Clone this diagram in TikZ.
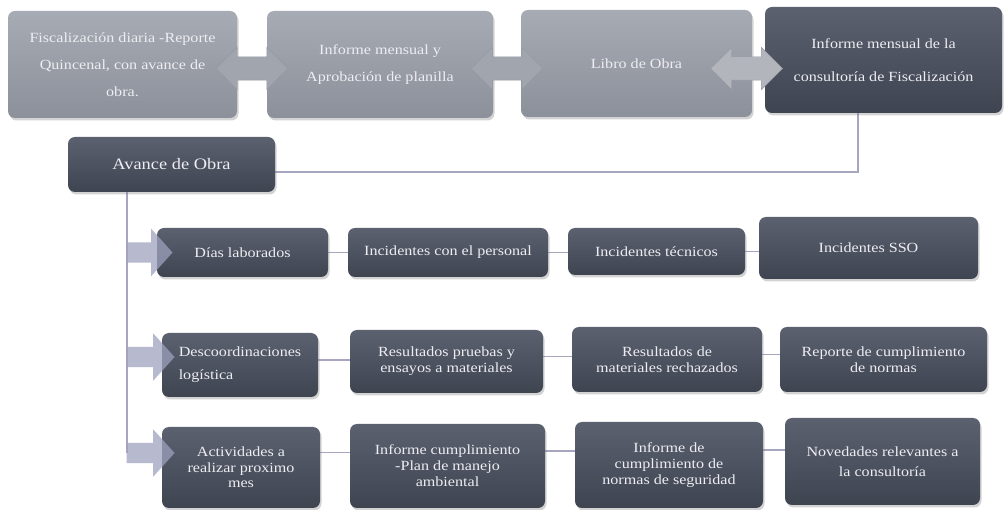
\documentclass[tikz,border=0pt]{standalone}
\usepackage{fontspec}
\setmainfont{Liberation Serif}[FakeStretch=1.15]
\usetikzlibrary{shapes.arrows,shadows,backgrounds,calc}
\definecolor{paleTop}{HTML}{A7ABB4}
\definecolor{paleBot}{HTML}{8B909A}
\definecolor{darkTop}{HTML}{5B616F}
\definecolor{darkBot}{HTML}{3E4450}
\definecolor{linkLine}{HTML}{A6A6C0}
\definecolor{arrowFill}{HTML}{B2B5BC}
\definecolor{arrowMuted}{HTML}{A1A5AE}
\definecolor{sideArrow}{HTML}{9FA1BE}
\definecolor{labelInk}{HTML}{EDEDF2}
\tikzset{
  card/.style={rounded corners=7pt, inner sep=3pt, text=labelInk, align=center,
    drop shadow={opacity=0.35, shadow xshift=1.5pt, shadow yshift=-2.5pt}},
  palecard/.style={card, top color=paleTop, bottom color=paleBot,
    font=\fontsize{14}{27}\selectfont},
  darkcard/.style={card, top color=darkTop, bottom color=darkBot,
    font=\fontsize{14}{16}\selectfont},
  link/.style={draw=linkLine, line width=1.8pt},
  swaparrow/.style={double arrow, fill=arrowFill, draw=arrowFill!85!black,
    line width=0.4pt, inner xsep=0pt, inner ysep=11.5pt,
    double arrow head extend=9.5pt, minimum height=72pt},
  sidearrow/.style={single arrow, fill=sideArrow, fill opacity=0.75, draw=none,
    inner xsep=0pt, inner ysep=10pt, single arrow head extend=13.5pt,
    single arrow tip angle=96, anchor=tip}
}
\begin{document}
\begin{tikzpicture}[x=1pt,y=-1pt]
\useasboundingbox (0,0) rectangle (1005,510);

% top process chain
\node[palecard, minimum width=229pt, minimum height=107pt] (b1) at (122.5,64.5)
  {Fiscalización diaria -Reporte\\Quincenal, con avance de\\obra.};
\node[palecard, minimum width=226pt, minimum height=107pt] (b2) at (380,64.5)
  {Informe mensual y\\Aprobación de planilla};
\node[palecard, minimum width=231pt, minimum height=107pt] (b3) at (636.5,63.5)
  {Libro de Obra};
\node[card, top color=darkTop, bottom color=darkBot, font=\fontsize{14}{33}\selectfont,
  minimum width=237pt, minimum height=106pt] (b4) at (883.5,60)
  {Informe mensual de la\\consultoría de Fiscalización};

% summary node
\node[card, top color=darkTop, bottom color=darkBot, font=\fontsize{16}{18}\selectfont,
  minimum width=207pt, minimum height=55pt] (av) at (171.5,164.5) {Avance de Obra};

% first row
\node[darkcard, minimum width=171pt, minimum height=49pt] (r1a) at (242.5,252.5) {Días laborados};
\node[darkcard, minimum width=200pt, minimum height=49pt] (r1b) at (448,252.5) {Incidentes con el personal};
\node[darkcard, minimum width=177pt, minimum height=47pt] (r1c) at (656.5,251.5) {Incidentes técnicos};
\node[darkcard, minimum width=219pt, minimum height=62pt] (r1d) at (868.5,248) {Incidentes SSO};

% second row
\node[darkcard, align=left, font=\fontsize{14}{23}\selectfont,
  minimum width=156pt, minimum height=64pt] (r2a) at (240,365) {Descoordinaciones\\logística};
\node[darkcard, minimum width=193pt, minimum height=63pt] (r2b) at (446.5,361.5)
  {Resultados pruebas y\\ensayos a materiales};
\node[darkcard, minimum width=190pt, minimum height=65pt] (r2c) at (667,359.5)
  {Resultados de\\materiales rechazados};
\node[darkcard, minimum width=207pt, minimum height=65pt] (r2d) at (883.5,359.5)
  {Reporte de cumplimiento\\de normas};

% third row
\node[darkcard, font=\fontsize{14}{15.5}\selectfont, minimum width=158pt, minimum height=81pt] (r3a) at (241,467.5)
  {Actividades a\\realizar proximo\\mes};
\node[darkcard, minimum width=195pt, minimum height=84pt] (r3b) at (447.5,466)
  {Informe cumplimiento\\-Plan de manejo\\ambiental};
\node[darkcard, minimum width=188pt, minimum height=86pt] (r3c) at (669,465)
  {Informe de\\cumplimiento de\\normas de seguridad};
\node[darkcard, font=\fontsize{14}{20}\selectfont, minimum width=195pt, minimum height=87pt] (r3d) at (882.5,461.5)
  {Novedades relevantes a\\la consultoría};

% arrows between the top boxes
\coordinate (topline) at (0,68.5);
\coordinate (m1) at ($(b1.east)!0.5!(b2.west)$);
\coordinate (m2) at ($(b2.east)!0.5!(b3.west)$);
\coordinate (m3) at ($(b3.east)!0.5!(b4.west)+(-12,0)$);
\node[swaparrow, fill=arrowMuted, draw=arrowMuted!92!black] (s1) at (m1 |- topline) {};
\node[swaparrow, fill=arrowMuted, draw=arrowMuted!92!black] (s2) at (m2 |- topline) {};
\node[swaparrow] (s3) at (m3 |- topline) {};

% trunk and connectors
\coordinate (turn) at (858,172);
\coordinate (trunk) at (127,453);
\begin{pgfonlayer}{background}
  \draw[link] (turn |- b4.south) -- (turn) -- (turn -| av.east);
  \draw[link] (av.south -| trunk) -- (trunk);
  \draw[link] (r1a.east) -- (r1a.east -| r1b.west);
  \draw[link] (r1b.east) -- (r1b.east -| r1c.west);
  \draw[link] (r1c.east) -- (r1c.east -| r1d.west);
  \draw[link] ([yshift=5pt]r2a.east) -- ([yshift=5pt]r2a.east -| r2b.west);
  \draw[link] ([yshift=5pt]r2b.east) -- ([yshift=5pt]r2b.east -| r2c.west);
  \draw[link] ([yshift=5pt]r2c.east) -- ([yshift=5pt]r2c.east -| r2d.west);
  \draw[link] ([yshift=15pt]r3a.east) -- ([yshift=15pt]r3a.east -| r3b.west);
  \draw[link] ([yshift=15pt]r3b.east) -- ([yshift=15pt]r3b.east -| r3c.west);
  \draw[link] ([yshift=15pt]r3c.east) -- ([yshift=15pt]r3c.east -| r3d.west);
\end{pgfonlayer}

% arrows from the trunk into the first box of each row
\node[sidearrow, minimum height=46pt] (e1) at ([xshift=16pt]r1a.west) {};
\node[sidearrow, minimum height=48pt] (e2) at ($(r2a.west)+(13,-8)$) {};
\node[sidearrow, minimum height=48pt] (e3) at ($(r3a.west)+(13,-14.5)$) {};
\end{tikzpicture}
\end{document}
